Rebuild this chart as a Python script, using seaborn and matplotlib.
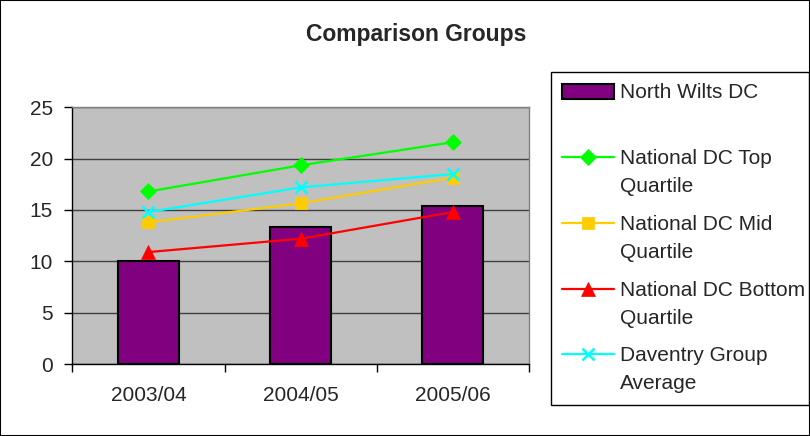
import matplotlib
matplotlib.use("Agg")
import matplotlib.pyplot as plt
import matplotlib.transforms as mtrans
from matplotlib.patches import Patch, Rectangle
from matplotlib.lines import Line2D
from matplotlib.legend_handler import HandlerLine2D, HandlerPatch
import seaborn as sns
import pandas as pd

# ---- data ----
years = ["2003/04", "2004/05", "2005/06"]
north_wilts = [10.0, 13.3, 15.4]
top_quartile = [16.8, 19.35, 21.6]
mid_quartile = [13.8, 15.65, 18.15]
bottom_quartile = [10.9, 12.2, 14.8]
daventry_avg = [14.8, 17.2, 18.5]
yticks = [0, 5, 10, 15, 20, 25]

bar_label = "North Wilts DC\n"
line_series = [
    ("National DC Top\nQuartile", top_quartile, "#00FF00", "D", 8),
    ("National DC Mid\nQuartile", mid_quartile, "#FFCC00", "s", 9),
    ("National DC Bottom\nQuartile", bottom_quartile, "#FF0000", "^", 10),
    ("Daventry Group\nAverage", daventry_avg, "#00FFFF", "x", 9),
]

sns.set_theme(style="white")
plt.rcParams["font.family"] = ["Liberation Sans", "DejaVu Sans"]

fig = plt.figure(figsize=(8.1, 4.36), dpi=100)
ax = fig.add_axes([72.3 / 810, 1 - 364 / 436, (529 - 72.3) / 810, (364 - 107.3) / 436])
ax.set_facecolor("#C0C0C0")

df_bar = pd.DataFrame({"year": years, "value": north_wilts})
sns.barplot(data=df_bar, x="year", y="value", order=years, color="#800080",
            width=0.4, edgecolor="black", linewidth=1.5, saturation=1, ax=ax)

for label, vals, col, mk, ms in line_series:
    d = pd.DataFrame({"year": years, "value": vals})
    sns.pointplot(data=d, x="year", y="value", order=years, color=col, marker=mk,
                  markersize=ms, linewidth=1.6, errorbar=None, ax=ax,
                  markeredgewidth=1.8 if mk == "x" else 0.5, markeredgecolor=col)

ax.set_xlim(-0.5, 2.5)
ax.set_ylim(0, 25)
ax.set_yticks(yticks)
ax.set_xlabel("")
ax.set_ylabel("")
ax.set_axisbelow(True)
ax.yaxis.grid(True, color="#404040", linewidth=1)
ax.xaxis.grid(False)

ax.tick_params(axis="y", which="major", length=6, width=1, color="black", pad=8,
               labelsize=15, left=True, direction="out")
ax.tick_params(axis="x", which="major", length=0, pad=16, labelsize=15)
ax.set_xticks([-0.5, 0.5, 1.5, 2.5], minor=True)
ax.tick_params(axis="x", which="minor", length=6, width=1, color="black", bottom=True, direction="out")

for s in ["left", "bottom"]:
    ax.spines[s].set_color("black")
    ax.spines[s].set_linewidth(1)
for s in ["top", "right"]:
    ax.spines[s].set_color("#808080")
    ax.spines[s].set_linewidth(1)

fig.text(416 / 810, 1 - 35 / 436, "Comparison Groups", ha="center", va="center",
         fontsize=16.5, fontweight="bold")

# ---- legend ----
SHIFT = 11.4


class ShiftLine(HandlerLine2D):
    def create_artists(self, legend, orig_handle, xdescent, ydescent, width, height, fontsize, trans):
        t = mtrans.Affine2D().translate(0, SHIFT) + trans
        return super().create_artists(legend, orig_handle, xdescent, ydescent, width, height, fontsize, t)


class ShiftPatch(HandlerPatch):
    def create_artists(self, legend, orig_handle, xdescent, ydescent, width, height, fontsize, trans):
        t = mtrans.Affine2D().translate(0, SHIFT) + trans
        return super().create_artists(legend, orig_handle, xdescent, ydescent, width, height, fontsize, t)


handles = [Patch(facecolor="#800080", edgecolor="black", linewidth=1.5)]
labels = [bar_label]
hmap = {handles[0]: ShiftPatch()}
for label, vals, col, mk, ms in line_series:
    h = Line2D([], [], color=col, marker=mk, markersize=ms, linewidth=1.6,
               markeredgewidth=1.8 if mk == "x" else 0.5, markeredgecolor=col)
    handles.append(h)
    labels.append(label)
    hmap[h] = ShiftLine(numpoints=1)

leg = fig.legend(handles, labels, loc="upper left",
                 bbox_to_anchor=(551 / 810, 1 - 72 / 436, 258 / 810, 0), mode="expand",
                 borderaxespad=0, frameon=True, fancybox=False, edgecolor="black",
                 framealpha=1, facecolor="white", fontsize=15, handlelength=2.45,
                 handletextpad=0.3, labelspacing=0.9, borderpad=0.55,
                 handler_map=hmap)
leg.get_frame().set_linewidth(1)
for t in leg.get_texts():
    t.set_linespacing(1.6)

fig.patches.append(Rectangle((0, 0), 1, 1, transform=fig.transFigure, fill=False,
                             edgecolor="black", linewidth=1.5))

fig.savefig("out.png", dpi=100, facecolor="white")
